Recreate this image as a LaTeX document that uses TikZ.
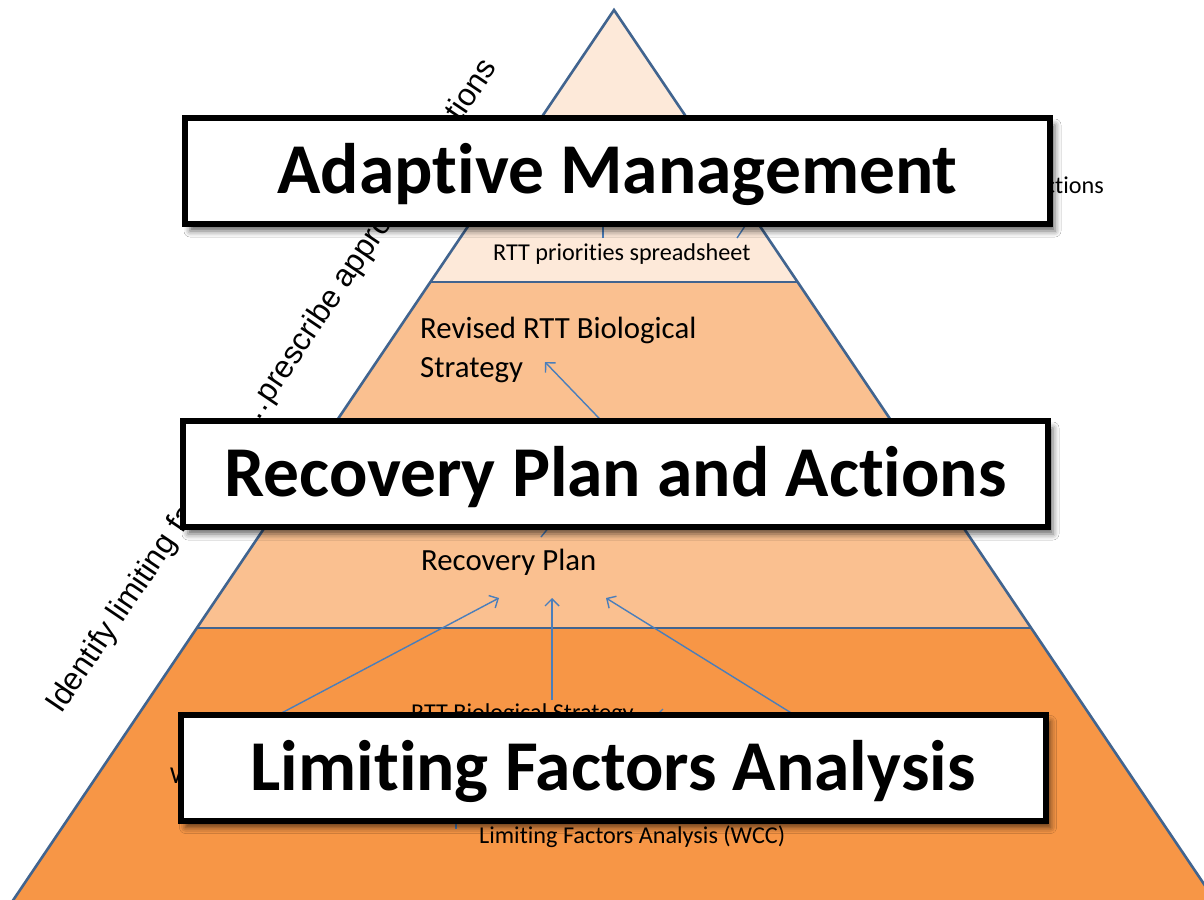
\documentclass[tikz,border=0pt]{standalone}
\usepackage{fontspec}
\setmainfont{Carlito}[Ligatures=NoCommon]
\newfontfamily\arialfont{Liberation Sans}
\usetikzlibrary{arrows.meta,shadows.blur}
\definecolor{tiertop}{HTML}{FDE9D9}
\definecolor{tiermid}{HTML}{FAC090}
\definecolor{tierbot}{HTML}{F79646}
\definecolor{pyrline}{HTML}{41648F}
\definecolor{arrowblue}{HTML}{4A7EBB}
\begin{document}
\begin{tikzpicture}[x=1pt,y=-1pt,
  tiertext/.style={font=\fontsize{24.2}{29}\selectfont, inner sep=0pt, text=black},
  bigtiertext/.style={font=\fontsize{30.8}{39}\selectfont, inner sep=0pt, text=black},
  flow/.style={draw=arrowblue, line width=1.4pt},
  flowarrow/.style={flow, -{Straight Barb[length=7pt,width=14pt]}},
  titlebox/.style={draw=black, line width=6pt, fill=white,
    minimum width=865pt, minimum height=106pt, inner sep=0pt,
    font=\fontsize{71.5}{80}\selectfont\bfseries, text height=45pt, text depth=0pt,
    blur shadow={shadow xshift=5pt, shadow yshift=-7pt, shadow blur radius=6pt, shadow opacity=60}},
  sidetext/.style={font=\arialfont\fontsize{31.5}{38}\selectfont, inner sep=0pt, rotate=56, anchor=base west}
]
\useasboundingbox (0,0) rectangle (1204,899);
\fill[white] (0,0) rectangle (1204,899);
\begin{scope}
\clip (0,0) rectangle (1204,899);
% tiers
\fill[tierbot] (196.8,628) -- (1031.2,628) -- (1235,930) -- (-7,930) -- cycle;
\fill[tiermid] (430.4,282) -- (797.6,282) -- (1031.2,628) -- (196.8,628) -- cycle;
\fill[tiertop] (614,10) -- (797.6,282) -- (430.4,282) -- cycle;
\draw[pyrline, line width=2.6pt, line join=miter] (-7,930) -- (614,10) -- (1235,930);
\draw[pyrline, line width=2.6pt] (430.4,282) -- (797.6,282);
\draw[pyrline, line width=2.6pt] (196.8,628) -- (1031.2,628);
\end{scope}

% texts inside the tiers
\node[tiertext, anchor=base west] (prio) at (493,260) {RTT priorities spreadsheet};
\node[bigtiertext, anchor=north west, align=left] (rev) at (420,317) {Revised RTT Biological\\Strategy};
\node[bigtiertext, anchor=base west] (rp) at (421,570) {Recovery Plan};
\node[tiertext, anchor=base west] (bio) at (411,720) {RTT Biological Strategy};
\node[tiertext, anchor=base west] (wtext) at (170,783) {W};
\node[tiertext, anchor=base west] (lfa) at (479,843) {Limiting Factors Analysis (WCC)};
\node[tiertext, anchor=base east] (act) at (1104,193) {actions};

% connector end points
\coordinate (p1) at (603,238);
\coordinate (p1e) at (603,195);
\coordinate (p2) at (737,238);
\coordinate (p2e) at (765,196);
\coordinate (rpn) at (541,537);
\coordinate (bend) at (620,440);
\coordinate (revtip) at (545,362);
\coordinate (a1s) at (240,735);
\coordinate (a1e) at (499,598);
\coordinate (a2s) at (552,700);
\coordinate (a2e) at (552,598);
\coordinate (a3s) at (830,737);
\coordinate (a3e) at (606,598);
\coordinate (a4s) at (770,716);
\coordinate (a4e) at (655,716);
\coordinate (a5s) at (456,829);
\coordinate (a5e) at (456,800);

\draw[flow] (p1) -- (p1e);
\draw[flow] (p2) -- (p2e);
\draw[flowarrow] (rpn) -- (bend) -- (revtip);
\draw[flowarrow] (a1s) -- (a1e);
\draw[flowarrow] (a2s) -- (a2e);
\draw[flowarrow] (a3s) -- (a3e);
\draw[flowarrow] (a4s) -- (a4e);
\draw[flow] (a5s) -- (a5e);

% side text
\node[sidetext] (side) at (61,715) {Identify limiting factors……prescribe appropriate actions};

% title boxes
\node[titlebox] (am) at (617.5,171) {Adaptive Management};
\node[titlebox] (rpa) at (615.5,474) {Recovery Plan and Actions};
\node[titlebox] (lfabox) at (613,767.5) {Limiting Factors Analysis};
\end{tikzpicture}
\end{document}
